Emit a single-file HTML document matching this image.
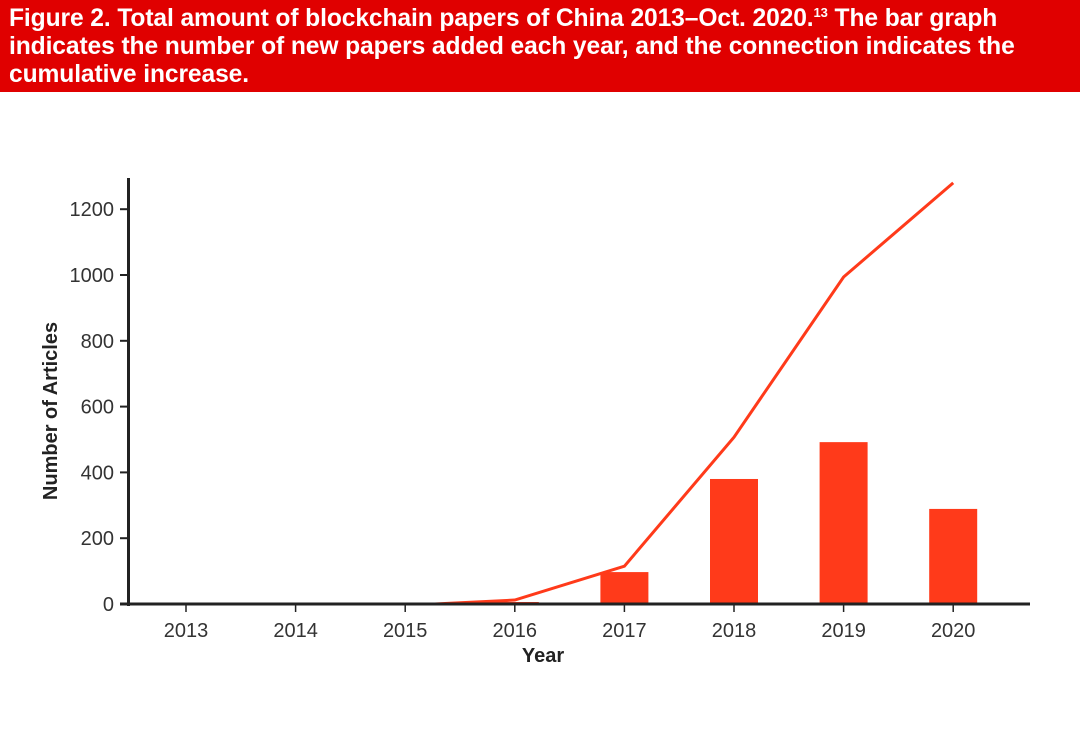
<!DOCTYPE html>
<html><head><meta charset="utf-8"><style>
body{margin:0;width:1080px;height:737px;background:#fff;overflow:hidden;font-family:"Liberation Sans",sans-serif}
#hdr{position:absolute;left:0;top:0;width:1080px;height:92px;background:#e00000;color:#fff;font-weight:bold;font-size:24.6px;line-height:28px;padding:5px 0 0 9px;box-sizing:border-box;white-space:nowrap;letter-spacing:-0.1px;overflow:hidden}
svg{position:absolute;left:0;top:0}
</style></head><body>
<div id="hdr">Figure 2. Total amount of blockchain papers of China 2013–Oct. 2020.<sup style="font-size:13px;line-height:0">13</sup> The bar graph<br>indicates the number of new papers added each year, and the connection indicates the<br>cumulative increase.</div>
<svg id="chart" width="1080" height="737"></svg>
<script>
const categories=["2013","2014","2015","2016","2017","2018","2019","2020"];
const newPapers=[0,0,0,6,97,380,492,289];
const cumYears=[2015.27,2016,2017,2018,2019,2020];
const cumValues=[0,12,115,507,994,1280];
const yTicks=[0,200,400,600,800,1000,1200];
const NS="http://www.w3.org/2000/svg";
const svg=document.getElementById('chart');
const x0=186,dx=109.6,yBase=604,pxPer=65.8/200;
const xs=i=>x0+i*dx;
const xy=yr=>x0+(yr-2013)*dx;
const ys=v=>yBase-v*pxPer;
function el(t,a){const e=document.createElementNS(NS,t);for(const k in a)e.setAttribute(k,a[k]);svg.appendChild(e);return e;}
newPapers.forEach((v,i)=>{if(v<=0)return;
const r=el('rect',{x:xs(i)-24,y:ys(v),width:48,height:yBase-ys(v),fill:'#ff3a1a'});

});
const pl=el('polyline',{points:cumYears.map((y,i)=>xy(y)+','+ys(cumValues[i])).join(' '),fill:'none',stroke:'#ff3a1a','stroke-width':3,'stroke-linejoin':'miter'});


const ya=el('line',{x1:128.5,y1:178,x2:128.5,y2:606,stroke:'#222','stroke-width':3});


const xa=el('line',{x1:120,y1:604,x2:1030,y2:604,stroke:'#222','stroke-width':3});


yTicks.forEach(v=>{el('line',{x1:120,y1:ys(v),x2:128,y2:ys(v),stroke:'#222','stroke-width':2});
const t=el('text',{x:114,y:ys(v)+7,'text-anchor':'end','font-size':20,fill:'#333'});t.textContent=v;

});
categories.forEach((c,i)=>{el('line',{x1:xs(i),y1:604,x2:xs(i),y2:612,stroke:'#222','stroke-width':1.5});
const t=el('text',{x:xs(i),y:637,'text-anchor':'middle','font-size':20,fill:'#333'});t.textContent=c;

});
const xt=el('text',{x:543,y:662,'text-anchor':'middle','font-size':20,'font-weight':'bold',fill:'#222'});xt.textContent='Year';


const yt=el('text',{x:0,y:0,'text-anchor':'middle','font-size':20,'font-weight':'bold',fill:'#222',transform:'translate(57,411) rotate(-90)'});yt.textContent='Number of Articles';


</script>
</body></html>
